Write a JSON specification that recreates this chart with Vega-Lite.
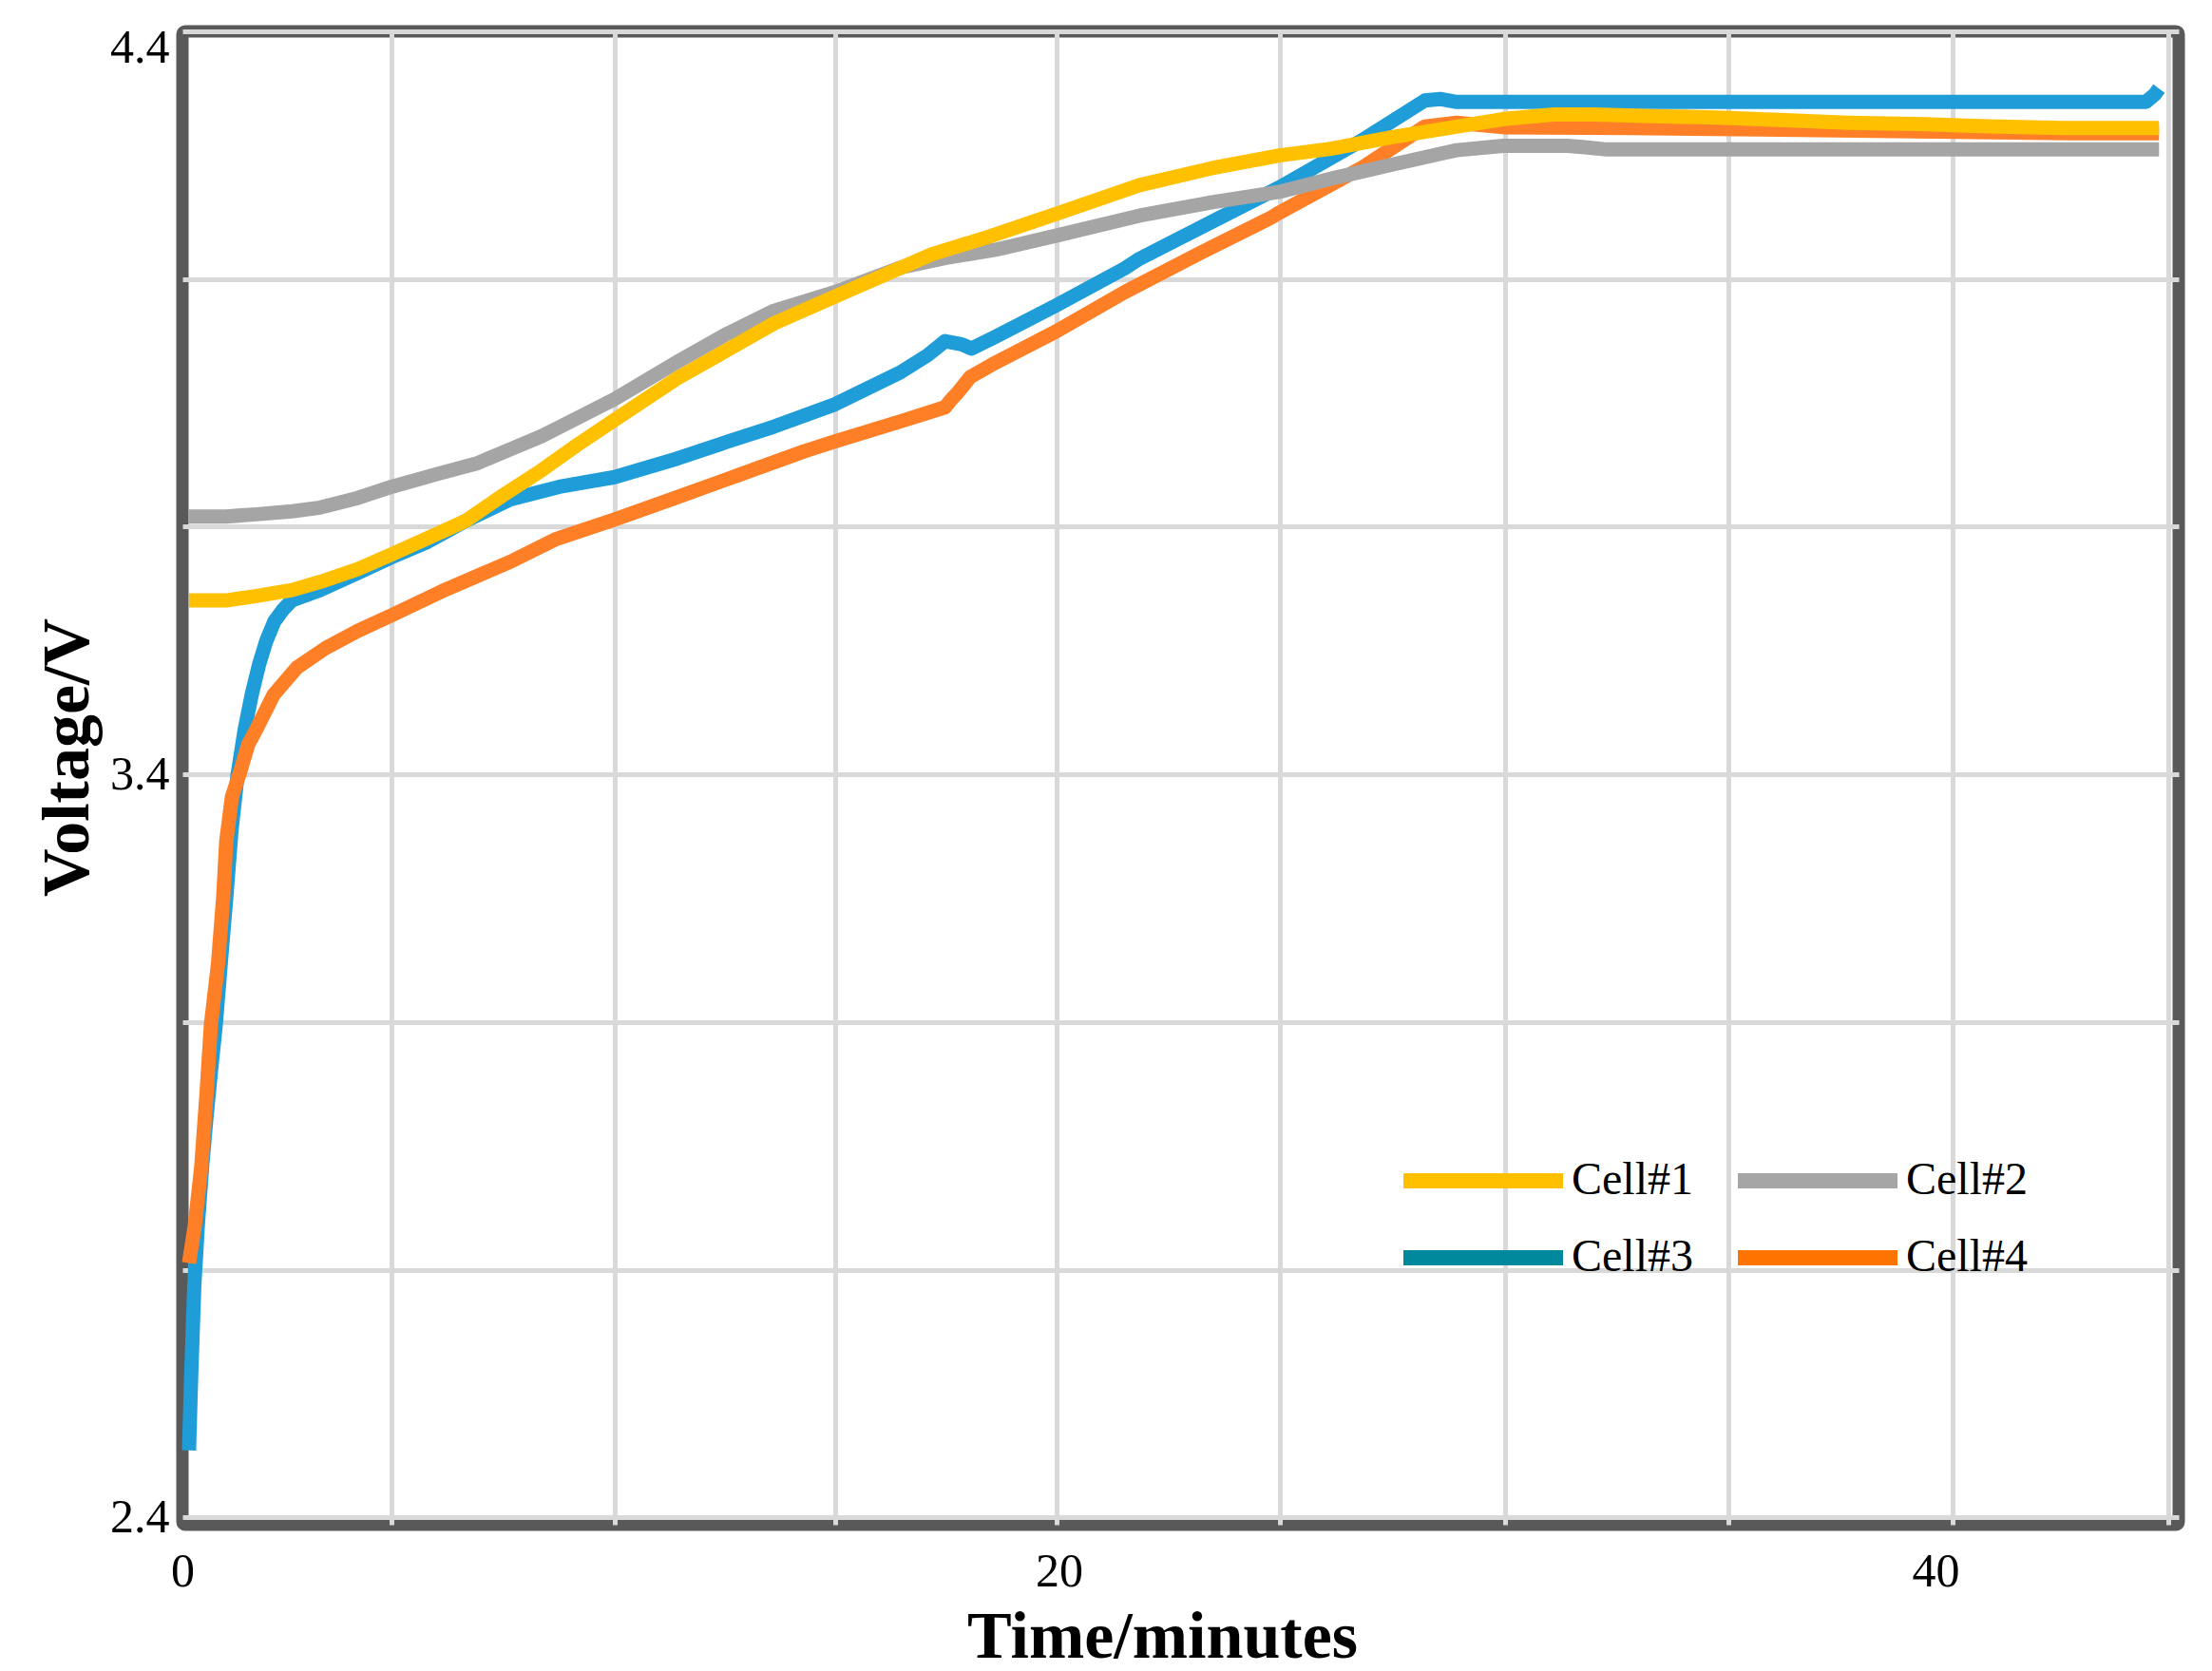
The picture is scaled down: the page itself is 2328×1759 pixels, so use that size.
{
  "$schema": "https://vega.github.io/schema/vega-lite/v6.json",
  "autosize": {"type": "none"},
  "padding": {"left": 192, "top": 33, "right": 35, "bottom": 154},
  "width": 2101,
  "height": 1572,
  "background": "white",
  "config": {
    "view": {"stroke": "#595959", "strokeWidth": 13, "cornerRadius": 3},
    "axis": {"labelFont": "Liberation Serif", "titleFont": "Liberation Serif", "labelColor": "black", "titleColor": "black"}
  },
  "data": {"values": [
    {"s":"Cell#3","t":0.15,"v":2.49},{"s":"Cell#3","t":0.2,"v":2.591},{"s":"Cell#3","t":0.27,"v":2.711},{"s":"Cell#3","t":0.35,"v":2.792},{"s":"Cell#3","t":0.45,"v":2.872},{"s":"Cell#3","t":0.54,"v":2.933},{"s":"Cell#3","t":0.65,"v":3.0},{"s":"Cell#3","t":0.76,"v":3.063},{"s":"Cell#3","t":0.9,"v":3.164},{"s":"Cell#3","t":1.0,"v":3.234},{"s":"Cell#3","t":1.12,"v":3.325},{"s":"Cell#3","t":1.26,"v":3.4},{"s":"Cell#3","t":1.42,"v":3.46},{"s":"Cell#3","t":1.58,"v":3.507},{"s":"Cell#3","t":1.75,"v":3.548},{"s":"Cell#3","t":1.91,"v":3.579},{"s":"Cell#3","t":2.1,"v":3.606},{"s":"Cell#3","t":2.3,"v":3.622},{"s":"Cell#3","t":2.5,"v":3.634},{"s":"Cell#3","t":3.14,"v":3.648},{"s":"Cell#3","t":4.0,"v":3.671},{"s":"Cell#3","t":4.77,"v":3.692},{"s":"Cell#3","t":5.6,"v":3.713},{"s":"Cell#3","t":6.46,"v":3.741},{"s":"Cell#3","t":7.48,"v":3.77},{"s":"Cell#3","t":8.6,"v":3.787},{"s":"Cell#3","t":9.86,"v":3.8},{"s":"Cell#3","t":11.29,"v":3.825},{"s":"Cell#3","t":12.4,"v":3.847},{"s":"Cell#3","t":13.5,"v":3.868},{"s":"Cell#3","t":14.89,"v":3.898},{"s":"Cell#3","t":16.38,"v":3.941},{"s":"Cell#3","t":17.0,"v":3.964},{"s":"Cell#3","t":17.4,"v":3.983},{"s":"Cell#3","t":17.77,"v":3.979},{"s":"Cell#3","t":18.0,"v":3.973},{"s":"Cell#3","t":18.55,"v":3.989},{"s":"Cell#3","t":19.93,"v":4.031},{"s":"Cell#3","t":21.5,"v":4.081},{"s":"Cell#3","t":21.84,"v":4.094},{"s":"Cell#3","t":25.03,"v":4.19},{"s":"Cell#3","t":26.9,"v":4.253},{"s":"Cell#3","t":28.35,"v":4.307},{"s":"Cell#3","t":28.7,"v":4.309},{"s":"Cell#3","t":29.07,"v":4.305},{"s":"Cell#3","t":32.0,"v":4.305},{"s":"Cell#3","t":36.0,"v":4.305},{"s":"Cell#3","t":40.0,"v":4.305},{"s":"Cell#3","t":44.8,"v":4.305},{"s":"Cell#3","t":45.0,"v":4.315},{"s":"Cell#3","t":45.1,"v":4.323},
    {"s":"Cell#4","t":0.15,"v":2.742},{"s":"Cell#4","t":0.28,"v":2.792},{"s":"Cell#4","t":0.43,"v":2.872},{"s":"Cell#4","t":0.55,"v":2.97},{"s":"Cell#4","t":0.65,"v":3.063},{"s":"Cell#4","t":0.81,"v":3.144},{"s":"Cell#4","t":0.93,"v":3.234},{"s":"Cell#4","t":1.0,"v":3.31},{"s":"Cell#4","t":1.13,"v":3.37},{"s":"Cell#4","t":1.3,"v":3.4},{"s":"Cell#4","t":1.5,"v":3.44},{"s":"Cell#4","t":1.69,"v":3.461},{"s":"Cell#4","t":2.08,"v":3.507},{"s":"Cell#4","t":2.62,"v":3.544},{"s":"Cell#4","t":3.27,"v":3.57},{"s":"Cell#4","t":4.0,"v":3.593},{"s":"Cell#4","t":4.77,"v":3.614},{"s":"Cell#4","t":6.02,"v":3.649},{"s":"Cell#4","t":7.48,"v":3.686},{"s":"Cell#4","t":8.5,"v":3.716},{"s":"Cell#4","t":9.86,"v":3.743},{"s":"Cell#4","t":11.29,"v":3.773},{"s":"Cell#4","t":12.7,"v":3.803},{"s":"Cell#4","t":14.2,"v":3.835},{"s":"Cell#4","t":14.89,"v":3.848},{"s":"Cell#4","t":16.38,"v":3.875},{"s":"Cell#4","t":17.4,"v":3.894},{"s":"Cell#4","t":17.55,"v":3.905},{"s":"Cell#4","t":17.68,"v":3.913},{"s":"Cell#4","t":17.98,"v":3.935},{"s":"Cell#4","t":18.55,"v":3.954},{"s":"Cell#4","t":19.93,"v":3.996},{"s":"Cell#4","t":21.5,"v":4.049},{"s":"Cell#4","t":23.2,"v":4.101},{"s":"Cell#4","t":24.8,"v":4.148},{"s":"Cell#4","t":25.03,"v":4.156},{"s":"Cell#4","t":26.9,"v":4.216},{"s":"Cell#4","t":28.35,"v":4.272},{"s":"Cell#4","t":29.07,"v":4.277},{"s":"Cell#4","t":30.14,"v":4.271},{"s":"Cell#4","t":33.0,"v":4.27},{"s":"Cell#4","t":36.0,"v":4.268},{"s":"Cell#4","t":40.0,"v":4.265},{"s":"Cell#4","t":43.0,"v":4.263},{"s":"Cell#4","t":45.1,"v":4.263},
    {"s":"Cell#2","t":0.15,"v":3.747},{"s":"Cell#2","t":1.0,"v":3.747},{"s":"Cell#2","t":1.69,"v":3.75},{"s":"Cell#2","t":2.5,"v":3.754},{"s":"Cell#2","t":3.14,"v":3.759},{"s":"Cell#2","t":4.0,"v":3.772},{"s":"Cell#2","t":4.77,"v":3.787},{"s":"Cell#2","t":5.8,"v":3.804},{"s":"Cell#2","t":6.74,"v":3.819},{"s":"Cell#2","t":7.5,"v":3.838},{"s":"Cell#2","t":8.19,"v":3.855},{"s":"Cell#2","t":8.56,"v":3.866},{"s":"Cell#2","t":9.86,"v":3.905},{"s":"Cell#2","t":11.29,"v":3.955},{"s":"Cell#2","t":12.4,"v":3.992},{"s":"Cell#2","t":13.5,"v":4.024},{"s":"Cell#2","t":14.89,"v":4.049},{"s":"Cell#2","t":16.38,"v":4.082},{"s":"Cell#2","t":17.5,"v":4.096},{"s":"Cell#2","t":18.55,"v":4.106},{"s":"Cell#2","t":19.93,"v":4.125},{"s":"Cell#2","t":21.84,"v":4.152},{"s":"Cell#2","t":23.5,"v":4.17},{"s":"Cell#2","t":25.03,"v":4.184},{"s":"Cell#2","t":26.3,"v":4.203},{"s":"Cell#2","t":27.63,"v":4.221},{"s":"Cell#2","t":29.07,"v":4.24},{"s":"Cell#2","t":30.14,"v":4.246},{"s":"Cell#2","t":31.6,"v":4.246},{"s":"Cell#2","t":32.0,"v":4.244},{"s":"Cell#2","t":32.5,"v":4.241},{"s":"Cell#2","t":35.0,"v":4.241},{"s":"Cell#2","t":40.0,"v":4.241},{"s":"Cell#2","t":45.1,"v":4.241},
    {"s":"Cell#1","t":0.15,"v":3.634},{"s":"Cell#1","t":1.0,"v":3.634},{"s":"Cell#1","t":1.69,"v":3.64},{"s":"Cell#1","t":2.5,"v":3.648},{"s":"Cell#1","t":3.14,"v":3.659},{"s":"Cell#1","t":4.0,"v":3.676},{"s":"Cell#1","t":4.77,"v":3.696},{"s":"Cell#1","t":5.6,"v":3.718},{"s":"Cell#1","t":6.46,"v":3.741},{"s":"Cell#1","t":7.3,"v":3.775},{"s":"Cell#1","t":8.19,"v":3.809},{"s":"Cell#1","t":9.0,"v":3.843},{"s":"Cell#1","t":9.86,"v":3.877},{"s":"Cell#1","t":11.29,"v":3.933},{"s":"Cell#1","t":12.4,"v":3.97},{"s":"Cell#1","t":13.5,"v":4.007},{"s":"Cell#1","t":14.89,"v":4.043},{"s":"Cell#1","t":17.1,"v":4.1},{"s":"Cell#1","t":18.37,"v":4.123},{"s":"Cell#1","t":19.97,"v":4.155},{"s":"Cell#1","t":21.84,"v":4.193},{"s":"Cell#1","t":23.5,"v":4.216},{"s":"Cell#1","t":25.03,"v":4.233},{"s":"Cell#1","t":26.2,"v":4.242},{"s":"Cell#1","t":27.63,"v":4.258},{"s":"Cell#1","t":29.0,"v":4.271},{"s":"Cell#1","t":30.14,"v":4.282},{"s":"Cell#1","t":31.3,"v":4.288},{"s":"Cell#1","t":32.2,"v":4.288},{"s":"Cell#1","t":33.5,"v":4.286},{"s":"Cell#1","t":35.0,"v":4.284},{"s":"Cell#1","t":36.7,"v":4.28},{"s":"Cell#1","t":38.0,"v":4.277},{"s":"Cell#1","t":39.8,"v":4.275},{"s":"Cell#1","t":41.2,"v":4.272},{"s":"Cell#1","t":42.9,"v":4.27},{"s":"Cell#1","t":45.1,"v":4.27}
  ]},
  "layer": [
    {
      "mark": {"type": "line", "opacity": 0, "strokeWidth": 15},
      "encoding": {
        "x": {"field": "t", "type": "quantitative", "scale": {"domain": [0, 45.55], "nice": false, "zero": false},
          "axis": {"values": [4.777, 9.872, 14.9, 19.955, 25.05, 30.17, 35.27, 40.38, 45.32], "orient": "bottom", "grid": true, "gridColor": "#D9D9D9", "gridWidth": 5, "labels": false, "ticks": false, "domain": false, "title": null}},
        "y": {"field": "v", "type": "quantitative", "scale": {"domain": [2.39, 4.4], "nice": false, "zero": false},
          "axis": {"values": [2.4, 2.7333, 3.0667, 3.4, 3.7333, 4.0667, 4.4], "grid": true, "gridColor": "#D9D9D9", "gridWidth": 5, "ticks": false, "tickSize": 0, "domain": false, "labelFlush": false,
            "labelExpr": "(datum.value == 2.4 || datum.value == 3.4 || datum.value == 4.4) ? format(datum.value, '.1f') : ''",
            "labelFontSize": 50, "labelPadding": 14,
            "labelOffset": {"condition": {"test": "datum.value == 4.4", "value": 17}, "value": 0},
            "title": "Voltage/V", "titleFontSize": 70, "titleFontWeight": "bold", "titleAngle": 270, "titleBaseline": "alphabetic", "titleAlign": "center", "titleX": -100, "titleY": 764}},
        "color": {"field": "s", "type": "nominal",
          "scale": {"domain": ["Cell#1", "Cell#3", "Cell#2", "Cell#4"], "range": ["#FFC000", "#00889C", "#A5A5A5", "#FF7300"]},
          "legend": {"orient": "none", "legendX": 1277, "legendY": 1186, "columns": 2, "title": null, "padding": 0,
            "symbolType": "stroke", "symbolSize": 28224, "symbolStrokeWidth": 16, "symbolOpacity": 1,
            "labelFont": "Liberation Serif", "labelFontSize": 48, "labelColor": "black", "labelOffset": 1, "labelLimit": 0,
            "columnPadding": 39, "rowPadding": 33, "clipHeight": 48}}
      }
    },
    {
      "mark": {"type": "line", "strokeWidth": 15, "strokeJoin": "round"},
      "encoding": {
        "x": {"field": "t", "type": "quantitative",
          "axis": {"values": [0, 20, 40], "orient": "bottom", "grid": false, "ticks": false, "tickSize": 0, "domain": false, "labelFlush": false, "labelFontSize": 50, "labelPadding": 24,
            "title": "Time/minutes", "titleFontSize": 70, "titleFontWeight": "bold", "titleBaseline": "alphabetic", "titleAlign": "center", "titleX": 1031, "titleY": 139}},
        "y": {"field": "v", "type": "quantitative"},
        "color": {"field": "s", "type": "nominal",
          "scale": {"domain": ["Cell#1", "Cell#2", "Cell#3", "Cell#4"], "range": ["#FFC000", "#A5A5A5", "#1F9DD9", "#FE7F26"]},
          "legend": null}
      }
    }
  ],
  "resolve": {"scale": {"color": "independent"}, "axis": {"x": "independent"}}
}
